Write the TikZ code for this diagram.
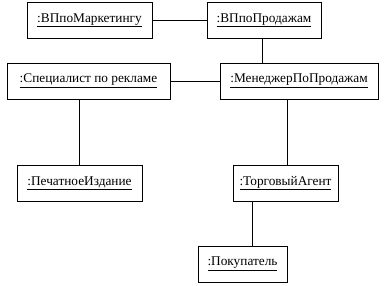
\documentclass[tikz,border=0pt]{standalone}
\usepackage{fontspec}
\setmainfont{Liberation Serif}
\begin{document}
\begin{tikzpicture}[x=1pt,y=-1pt,
  obj/.style={draw, line width=0.9pt, minimum height=36pt, inner sep=0pt,
    font=\fontsize{13.3}{15}\selectfont},
  link/.style={line width=0.9pt}]
\useasboundingbox (0,0) rectangle (384,286);
% objects
\node[obj, minimum width=125pt] (vpm)  at (89.5,20.5) {\underline{:ВПпоМаркетингу}};
\node[obj, minimum width=114pt] (vpp)  at (264,20.5)  {\underline{:ВПпоПродажам}};
\node[obj, minimum width=163pt] (spec) at (88.5,81)   {\underline{:Специалист по рекламе}};
\node[obj, minimum width=158pt] (men)  at (299,81)    {\underline{:МенеджерПоПродажам}};
\node[obj, minimum width=125pt] (pech) at (79.5,183)  {\underline{:ПечатноеИздание}};
\node[obj, minimum width=105pt] (torg) at (285.5,183) {\underline{:ТорговыйАгент}};
\node[obj, minimum width=89pt]  (pok)  at (242.5,264) {\underline{:Покупатель}};
% links
\draw[link] (vpm.east) -- (vpp.west);
\draw[link] (vpp.south -| 262,0) -- (men.north -| 262,0);
\draw[link] (spec.east) -- (men.west);
\draw[link] (spec.south -| 79,0) -- (pech.north -| 79,0);
\draw[link] (men.south -| 287,0) -- (torg.north -| 287,0);
\draw[link] (torg.south -| 252,0) -- (pok.north -| 252,0);
\end{tikzpicture}
\end{document}
